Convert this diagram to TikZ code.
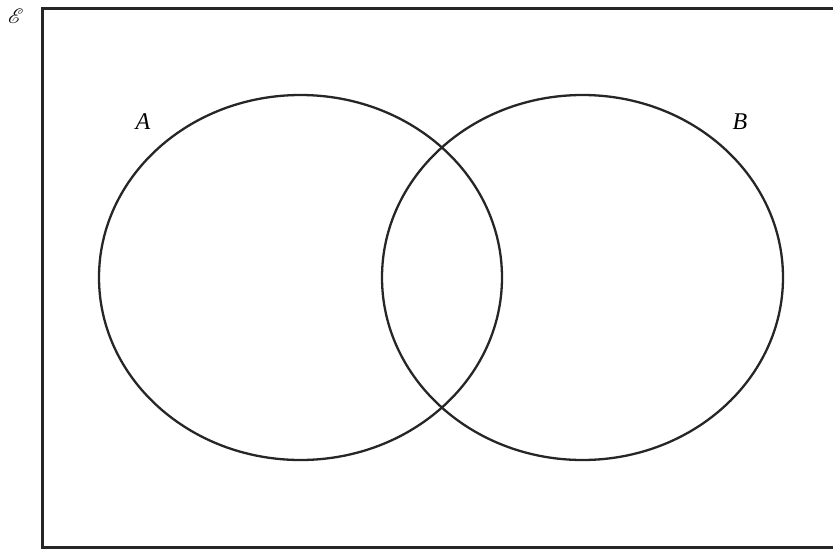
\documentclass[tikz,border=0pt]{standalone}
\usepackage{mathrsfs}
\usepackage{fontspec}
\newfontfamily\labelfont{Liberation Serif}
\begin{document}
\begin{tikzpicture}[x=1pt,y=-1pt,
  setline/.style={line width=2.3pt,draw=black!85},
  frameline/.style={line width=3pt,draw=black!85},
  setlabel/.style={font=\fontsize{24}{26}\selectfont\labelfont\itshape}]
\useasboundingbox (0,0) rectangle (833,549);
\begin{scope}
\clip (0,0) rectangle (833,549);
\draw[frameline] (42,8) rectangle (840,547);
\end{scope}
\node[font=\fontsize{22}{24}\selectfont] (U) at (16,16) {$\mathscr{E}$};
\draw[setline] (300.5,277.5) ellipse [x radius=201.5, y radius=182.5];
\draw[setline] (582.5,277.5) ellipse [x radius=200.5, y radius=182.5];
\node[setlabel] (A) at (143,122) {A};
\node[setlabel] (B) at (740,122) {B};
\end{tikzpicture}
\end{document}
